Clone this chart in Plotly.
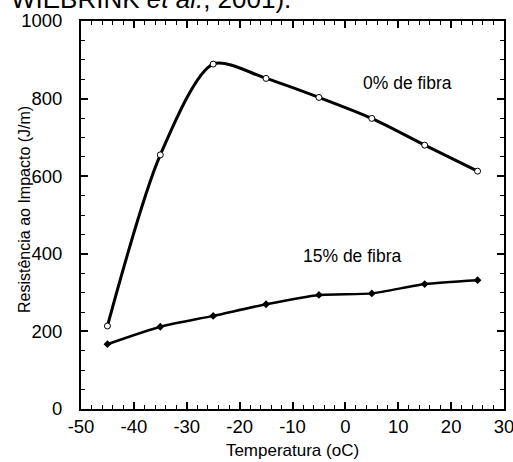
import plotly.graph_objects as go

temps = [-45, -35, -25, -15, -5, 5, 15, 25]
fibra0 = [214, 655, 889, 852, 803, 749, 680, 613]
fibra15 = [167, 212, 240, 270, 294, 298, 322, 332]

x_tickvals = [-50, -40, -30, -20, -10, 0, 10, 20, 30]
x_ticktext = ["-50", "-40", "-30", "-20", "-10", "0", "10", "20", "30"]
y_tickvals = [0, 200, 400, 600, 800, 1000]
y_ticktext = ["0", "200", "400", "600", "800", "1000"]

x_title = "Temperatura (oC)"
y_title = "Resistência ao Impacto (J/m)"
label0 = "0% de fibra"
label15 = "15% de fibra"
caption = "WIEBRINK <i>et al.</i>, 2001)."

FONT = "Liberation Sans, Arial, sans-serif"
PLOT_L, PLOT_R, PLOT_T, PLOT_B = 81, 9, 21, 53
PW = 513 - PLOT_L - PLOT_R
PH = 462 - PLOT_T - PLOT_B

fig = go.Figure()
fig.add_trace(go.Scatter(
    x=temps, y=fibra0, mode="lines+markers",
    line=dict(color="black", width=3, shape="spline", smoothing=0.8),
    marker=dict(symbol="circle", size=6, color="white", line=dict(color="black", width=1)),
    showlegend=False, cliponaxis=False))
fig.add_trace(go.Scatter(
    x=temps, y=fibra15, mode="lines+markers",
    line=dict(color="black", width=2.5, shape="spline", smoothing=0.6),
    marker=dict(symbol="diamond", size=6, color="black"),
    showlegend=False, cliponaxis=False))

fig.add_annotation(x=3.0, y=840, text=label0, showarrow=False, xanchor="left",
                   yanchor="middle", font=dict(size=17.5, color="black", family=FONT))
fig.add_annotation(x=-8.3, y=394, text=label15, showarrow=False, xanchor="left",
                   yanchor="middle", font=dict(size=17.5, color="black", family=FONT))
fig.add_annotation(xref="paper", yref="paper", x=(293 - PLOT_L) / PW, y=1.013, text=caption,
                   showarrow=False, xanchor="right", yanchor="bottom",
                   font=dict(size=26, color="black", family=FONT))
# y-axis title placed as rotated text
fig.add_annotation(xref="paper", yref="paper", x=(24 - PLOT_L) / PW, y=(462 - PLOT_B - 210) / PH,
                   text=y_title, textangle=-90, showarrow=False, xanchor="center", yanchor="middle",
                   font=dict(size=16, color="black", family=FONT))

axis_common = dict(
    showline=True, linecolor="black", linewidth=2, mirror="allticks",
    ticks="inside", tickcolor="black", tickwidth=1.5, ticklen=7,
    showgrid=False, zeroline=False, automargin=False, ticklabeloverflow="allow",
    tickfont=dict(size=18.5, color="black", family=FONT),
)

fig.update_xaxes(range=[-50, 30], tickmode="array", tickvals=x_tickvals, ticktext=x_ticktext,
                 ticklabelstandoff=0,
                 minor=dict(dtick=2, tick0=-50, ticks="inside", ticklen=4, tickcolor="black", tickwidth=1.2, showgrid=False),
                 title=dict(text=x_title, font=dict(size=17, color="black", family=FONT), standoff=8),
                 **axis_common)
fig.update_yaxes(range=[0, 1000], tickmode="array", tickvals=y_tickvals, ticktext=y_ticktext,
                 ticklabelstandoff=13,
                 minor=dict(dtick=50, tick0=0, ticks="inside", ticklen=4, tickcolor="black", tickwidth=1.2, showgrid=False),
                 **axis_common)

fig.update_layout(
    width=513, height=462,
    margin=dict(l=PLOT_L, r=PLOT_R, t=PLOT_T, b=PLOT_B),
    plot_bgcolor="white", paper_bgcolor="white",
    font=dict(family=FONT, color="black"),
)

fig.write_html("out.html")
